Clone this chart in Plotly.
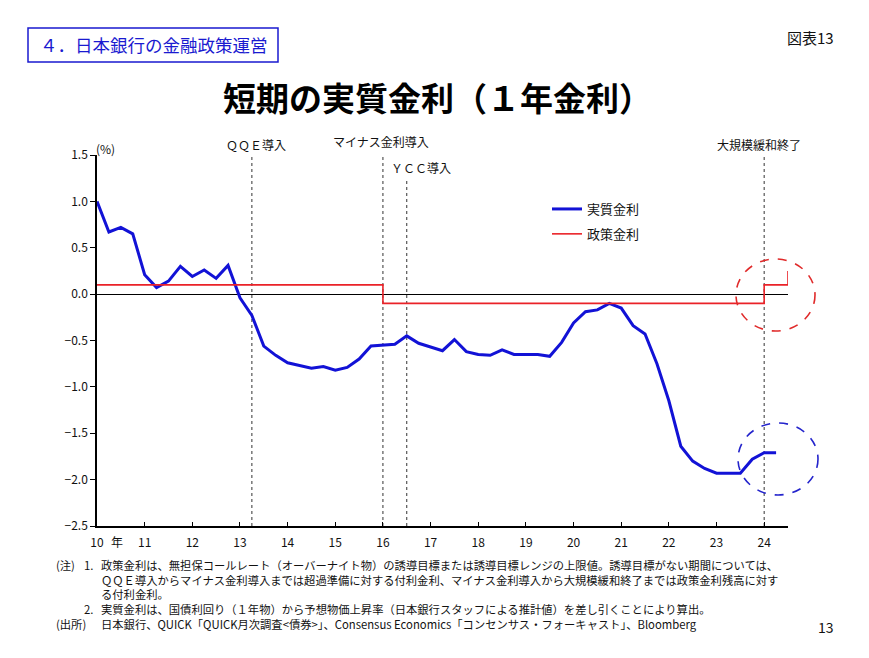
import plotly.graph_objects as go

# ---------------- data ----------------
quarters = [10.0 + 0.25 * i for i in range(58)]  # 2010Q1 .. 2024Q2 (x positions in years)
real_rate = [
    1.00, 0.67, 0.72, 0.65,      # 2010
    0.21, 0.07, 0.14, 0.30,      # 2011
    0.19, 0.26, 0.17, 0.31,      # 2012
    -0.04, -0.23, -0.56, -0.66,  # 2013
    -0.74, -0.77, -0.80, -0.78,  # 2014
    -0.82, -0.79, -0.70, -0.56,  # 2015
    -0.55, -0.54, -0.45, -0.53,  # 2016
    -0.57, -0.61, -0.49, -0.62,  # 2017
    -0.65, -0.66, -0.60, -0.65,  # 2018
    -0.65, -0.65, -0.67, -0.52,  # 2019
    -0.31, -0.19, -0.17, -0.10,  # 2020
    -0.15, -0.34, -0.43, -0.75,  # 2021
    -1.15, -1.64, -1.80, -1.88,  # 2022
    -1.93, -1.93, -1.93, -1.78,  # 2023
    -1.71, -1.71,                # 2024
]
policy_x = [10.0, 16.0, 24.0, 24.5]
policy_rate = [0.10, -0.10, 0.10, 0.25]

year_ticks = list(range(10, 25))
year_labels = [str(y) for y in year_ticks]
y_ticks = [1.5, 1.0, 0.5, 0.0, -0.5, -1.0, -1.5, -2.0, -2.5]

event_x = [13.25, 16.0, 16.5, 24.0]
event_labels = ["ＱＱＥ導入", "マイナス金利導入", "ＹＣＣ導入", "大規模緩和終了"]

series_names = ["実質金利", "政策金利"]

title_text = "短期の実質金利（１年金利）"
section_text = "４．日本銀行の金融政策運営"
fig_no = "図表13"
page_no = "13"
note_heads = ["(注)", "", "", "", "(出所)"]
note_nums = ["1.", "", "", "2.", ""]
note_texts = [
    "政策金利は、無担保コールレート（オーバーナイト物）の誘導目標または誘導目標レンジの上限値。誘導目標がない期間については、",
    "ＱＱＥ導入からマイナス金利導入までは超過準備に対する付利金利、マイナス金利導入から大規模緩和終了までは政策金利残高に対す",
    "る付利金利。",
    "実質金利は、国債利回り（１年物）から予想物価上昇率（日本銀行スタッフによる推計値）を差し引くことにより算出。",
    "日本銀行、QUICK「QUICK月次調査<債券>」、Consensus Economics「コンセンサス・フォーキャスト」、Bloomberg",
]

# ---------------- style ----------------
FONT = "Noto Sans CJK JP"
OFF = 8                      # page body margin of the html page
PAGE_W, PAGE_H = 869, 658
PL, PR, PT, PB = 97, 788, 155, 526   # plot area in page pixels
W, H = PAGE_W - 2 * OFF, PAGE_H - 2 * OFF
L, T = PL - OFF, PT - OFF
R, B = W - (PR - OFF), H - (PB - OFF)
PW, PH = PR - PL, PB - PT


def px_x(p):
    return (p - PL) / PW


def px_y(p):
    return (PB - p) / PH


fig = go.Figure()
fig.add_trace(go.Scatter(
    x=quarters, y=real_rate, mode="lines", name=series_names[0],
    line=dict(color="#1212d6", width=3), legendgroup="a", cliponaxis=False,
))
fig.add_trace(go.Scatter(
    x=policy_x, y=policy_rate, mode="lines", name=series_names[1],
    line=dict(color="#ea2228", width=1.6, shape="hv"), legendgroup="b", cliponaxis=False,
))

shapes = []
ev_tops = [px_y(157), px_y(157), px_y(178), px_y(157)]
for ex, top in zip(event_x, ev_tops):
    shapes.append(dict(type="line", xref="x", yref="paper", x0=ex, x1=ex, y0=0, y1=top,
                       line=dict(color="#333333", width=1, dash="dot"), layer="below"))
shapes.append(dict(type="circle", xref="paper", yref="paper",
                   x0=px_x(736), x1=px_x(815), y0=px_y(331), y1=px_y(259),
                   line=dict(color="#e02a2a", width=1.6, dash="dash")))
shapes.append(dict(type="circle", xref="paper", yref="paper",
                   x0=px_x(738), x1=px_x(818), y0=px_y(495), y1=px_y(423),
                   line=dict(color="#2424cc", width=1.6, dash="dash")))
shapes.append(dict(type="rect", xref="paper", yref="paper",
                   x0=px_x(28), x1=px_x(278), y0=px_y(62), y1=px_y(28),
                   line=dict(color="#1a1ad0", width=1.5)))

ann = []
ev_label_y = [144, 142, 168, 144]
ev_label_shift = [4, -2, 14, -5]
for ex, lab, ly, sh in zip(event_x, event_labels, ev_label_y, ev_label_shift):
    ann.append(dict(x=ex, y=px_y(ly), xref="x", yref="paper", text=lab, showarrow=False,
                    xanchor="center", yanchor="middle", xshift=sh,
                    font=dict(family=FONT, size=12, color="#111111")))
ann.append(dict(x=px_x(94), y=px_y(148), xref="paper", yref="paper", text="(%)", showarrow=False,
                xanchor="left", yanchor="middle", font=dict(family=FONT, size=12, color="#111111")))
ann.append(dict(x=px_x(117), y=px_y(541), xref="paper", yref="paper", text="年", showarrow=False,
                xanchor="center", yanchor="middle", font=dict(family=FONT, size=12, color="#111111")))
ann.append(dict(x=px_x(437), y=px_y(97), xref="paper", yref="paper", text=title_text, showarrow=False,
                xanchor="center", yanchor="middle",
                font=dict(family=FONT, size=33, color="#000000", weight="bold")))
ann.append(dict(x=px_x(154), y=px_y(45), xref="paper", yref="paper", text=section_text, showarrow=False,
                xanchor="center", yanchor="middle", font=dict(family=FONT, size=17.5, color="#1a1ad0")))
ann.append(dict(x=px_x(836), y=px_y(37), xref="paper", yref="paper", text=fig_no, showarrow=False,
                xanchor="right", yanchor="middle", font=dict(family=FONT, size=15, color="#111111")))
ann.append(dict(x=px_x(836), y=px_y(627), xref="paper", yref="paper", text=page_no, showarrow=False,
                xanchor="right", yanchor="middle", font=dict(family=FONT, size=14, color="#111111")))
note_mid = (566 + 620) / 2 + 1
for col, xx in ((note_heads, 55), (note_nums, 83), (note_texts, 100)):
    txt = "<br>".join(t if t else " " for t in col)
    ann.append(dict(x=px_x(xx), y=px_y(note_mid), xref="paper", yref="paper", text=txt,
                    showarrow=False, xanchor="left", yanchor="middle", align="left",
                    borderpad=0,
                    font=dict(family=FONT, size=11.3, color="#111111")))

fig.update_layout(
    width=W, height=H,
    margin=dict(l=L, r=R, t=T, b=B, pad=0),
    paper_bgcolor="white", plot_bgcolor="white",
    font=dict(family=FONT, size=12, color="#111111"),
    showlegend=True,
    legend=dict(x=px_x(547), y=px_y(194), xanchor="left", yanchor="top",
                traceorder="grouped", tracegroupgap=5, itemwidth=30,
                font=dict(family=FONT, size=13, color="#111111"),
                bgcolor="rgba(0,0,0,0)"),
    shapes=shapes, annotations=ann,
)
fig.update_xaxes(range=[10, 24.5], tickvals=year_ticks, ticktext=year_labels,
                 ticks="inside", ticklen=4, tickcolor="#000", tickwidth=1, ticklabelstandoff=5,
                 showline=True, linecolor="#000", linewidth=1.5, showgrid=False, zeroline=False,
                 tickfont=dict(family=FONT, size=12, color="#111111"))
fig.update_yaxes(range=[-2.5, 1.5], tickvals=y_ticks, tickformat=".1f",
                 ticks="outside", ticklen=5, tickcolor="#000", tickwidth=1,
                 showline=True, linecolor="#000", linewidth=1.5, showgrid=False,
                 zeroline=True, zerolinecolor="#000", zerolinewidth=1,
                 tickfont=dict(family=FONT, size=12, color="#111111"))

fig.write_html("out.html")
